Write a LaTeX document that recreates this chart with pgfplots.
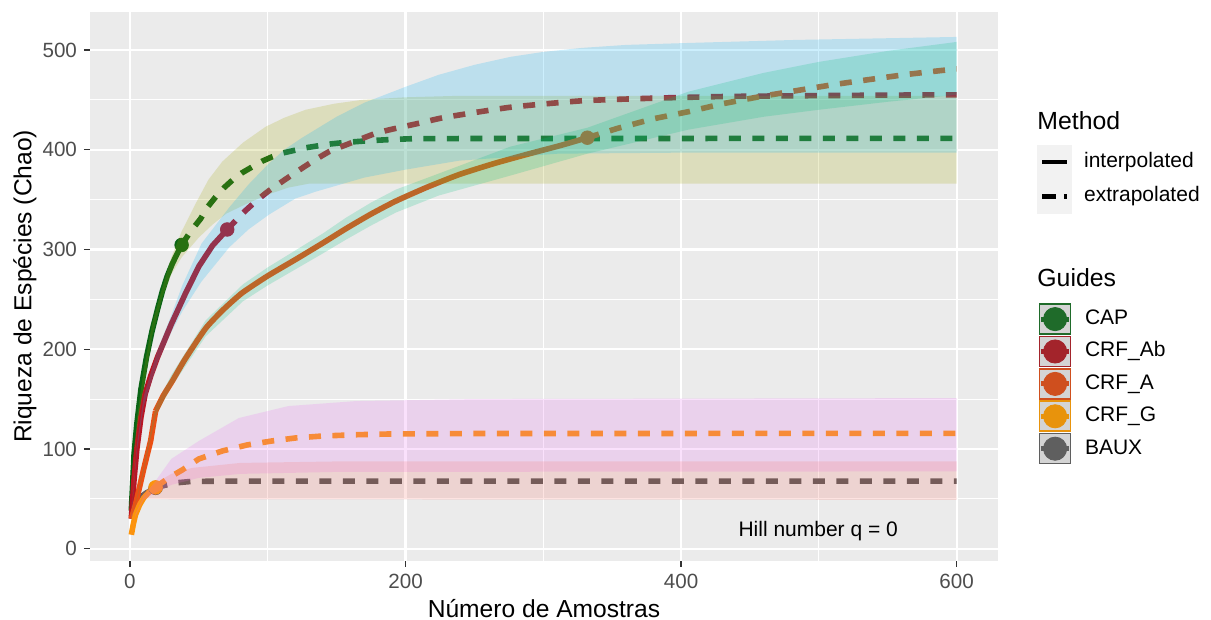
\documentclass[border=0pt]{standalone}
\usepackage{fontspec}
\setmainfont{Liberation Sans}
\usepackage{pgfplots}
\pgfplotsset{compat=1.18}
\definecolor{panelbg}{HTML}{EBEBEB}
\definecolor{gtwenty}{HTML}{333333}
\definecolor{gthirty}{HTML}{4D4D4D}
\definecolor{capc}{RGB}{10,100,22}
\definecolor{abc}{RGB}{185,20,35}
\definecolor{crfac}{RGB}{235,80,20}
\definecolor{crfgc}{RGB}{252,148,10}
\definecolor{bauxc}{RGB}{85,85,85}
\definecolor{bandcap}{HTML}{A3A500}
\definecolor{bandab}{HTML}{00B0F6}
\definecolor{banda}{HTML}{00BF7D}
\definecolor{bandg}{HTML}{E76BF3}
\definecolor{bandbaux}{HTML}{F8766D}
\definecolor{lcap}{RGB}{31,107,42}
\definecolor{lab}{RGB}{163,36,43}
\definecolor{la}{RGB}{207,79,30}
\definecolor{lg}{RGB}{232,147,12}
\definecolor{lbaux}{RGB}{95,95,95}
\definecolor{keybg}{RGB}{212,212,212}
\definecolor{keybgm}{HTML}{F2F2F2}
\newcommand\guidekey[1]{%
  \filldraw[fill=keybg, draw=#1, line width=0.8pt] (0.4pt,-7.5pt) rectangle (15.9pt,7.5pt);
  \draw[#1, line width=2.5pt] (1pt,0pt) -- (15.3pt,0pt);
  \fill[#1] (8.15pt,0pt) circle (5.8pt);}
\pgfplotsset{
  interp/.style={line width=2.8pt},
  extrap/.style={line width=2.8pt, dash pattern=on 6pt off 5.75pt},
  band/.style={draw=none, fill opacity=0.2},
}
\begin{document}
\begin{tikzpicture}
\begin{axis}[name=main,
  scale only axis, width=454pt, height=274.35pt,
  xmin=-29, xmax=630, ymin=-12, ymax=538,
  clip marker paths=true,
  axis background/.style={fill=panelbg},
  axis line style={draw=none},
  tick pos=left, tick align=outside,
  major tick length=3pt, minor tick length=0pt,
  xtick={0,200,400,600}, minor xtick={100,300,500},
  ytick={0,100,200,300,400,500}, minor ytick={50,150,250,350,450},
  grid=both,
  major grid style={white, line width=1.1pt},
  minor grid style={white, line width=0.55pt},
  tick style={gtwenty, line width=0.6pt},
  tick label style={font=\fontsize{10.3}{12}\selectfont, text=gthirty},
  /pgf/number format/assume math mode=true,
  xlabel={Número de Amostras}, ylabel={Riqueza de Espécies (Chao)},
  label style={font=\fontsize{12.3}{14}\selectfont},
  xlabel style={at={(axis description cs:0.5,-0.1035)}, anchor=base},
  ylabel style={at={(axis description cs:-0.0716,0.5)}, anchor=center},
]
% ---- lines (interpolated / extrapolated)
\addplot[bauxc, interp] coordinates {(1,32) (4,44) (8,52) (12,56) (16,59) (18.6,61)};
\addplot[bauxc, extrap] coordinates {(18.6,61) (25,63.5) (33,66) (45,67.5) (80,67.8) (600,67.8)};
\addplot[capc, interp] coordinates {(1,38) (3,95) (5,125) (8,160) (12,192) (16,218) (20,240) (23.5,258) (27,273) (30.7,285.5) (34,295) (37.5,304.5)};
\addplot[capc, extrap] coordinates {(37.5,304.5) (44,318) (51.3,330.8) (56,342) (62.2,352.6) (68,361.5) (74.3,369.4) (81,376.5) (88.8,382.8) (96,388.5) (103.3,392.9) (111,396.7) (120.3,399.6) (128,402) (137.2,404) (146,405.8) (156.6,407.3) (173.5,409) (190,410.2) (205,411) (250,411.2) (600,411.3)};
\addplot[abc, interp] coordinates {(1,30) (3,70) (5,100) (8,132) (11,155) (15,173) (20,192) (30,225) (40,255) (50,283) (60,304) (70.6,320)};
\addplot[abc, extrap, smooth, tension=0.3] coordinates {(70.6,320) (82.8,337.5) (92,349) (101,359) (115.4,372.7) (130,386) (144.5,398) (159,406) (178.4,416.4) (193,421.4) (209.8,426.5) (229,432.5) (276,442.5) (328,449) (380,451.6) (431.7,453.3) (483.5,454) (540,454.6) (600,455)};
\addplot[crfac, interp] coordinates {(1,30) (4,44) (10,80) (15,108) (18.6,138)};
\addplot[crfac, interp, smooth, tension=0.35] coordinates {(18.6,138) (24,153) (30.7,168) (40,190) (55,221) (68,240) (81.5,256.5) (100,273.5) (120.3,290) (139.5,306) (157,321) (175,335.5) (193,348.5) (215,362) (238.8,375) (264,386) (290,396) (312,404) (332,412)};
\addplot[crfac, extrap] coordinates {(332,412) (354,421.4) (380,431) (405.8,438.2) (430,446) (457.6,453.3) (483,459) (509.5,465) (535,470) (561.4,475) (580,478) (600,481)};
\addplot[crfgc, interp] coordinates {(1,14) (2.5,25) (4,34) (7,44) (10,51) (14,57) (18.6,61.5)};
\addplot[crfgc, extrap] coordinates {(18.6,61.5) (28,71) (38,79) (50,90) (67,98) (85,104) (103,108) (120,111) (140,113) (165,114.3) (188,115) (250,115.5) (600,115.6)};
% ---- reference points
\addplot[only marks, mark=*, mark size=3.4pt, bauxc] coordinates {(18.6,61)};
\addplot[only marks, mark=*, mark size=3.4pt, capc] coordinates {(37.5,304.5)};
\addplot[only marks, mark=*, mark size=3.4pt, abc] coordinates {(70.6,320)};
\addplot[only marks, mark=*, mark size=3.4pt, crfac] coordinates {(332,412)};
\addplot[only marks, mark=*, mark size=3.4pt, crfgc] coordinates {(18.6,61.5)};
% ---- confidence bands
\addplot[band, fill=bandcap] coordinates {(1,40) (5,130) (10,180) (16,225) (23.5,262) (30,292) (37.5,318) (47.7,346) (57,370) (67,388) (82,407) (98.5,423) (112,432) (127.5,440) (148,446) (168.7,450) (200,452.5) (239,454) (600,454)
  (600,366) (130,366) (115,362) (100,355) (85,346) (70,336) (60,325) (50,312) (37.5,292) (30,275) (23.5,252) (16,212) (10,160) (5,118) (1,36)} -- cycle;
\addplot[band, fill=bandab] coordinates {(1,32) (5,104) (10,153) (20,199) (30,234) (38,264) (52,306) (72,342) (86,365) (100,385) (112,400) (125,412) (150,433) (170,447) (200,463) (224,475) (250,485) (276,493) (300,498) (328,502) (360,505) (406,507) (483,510) (600,513)
  (600,397) (400,397) (311,396) (239,389) (200,380) (170,372) (135,358) (120,351) (101,335) (86,320) (72,302) (52,268) (38,238) (30,217) (20,186) (10,143) (5,97) (1,28)} -- cycle;
\addplot[band, fill=banda] coordinates {(1,30) (4,45) (10,82) (18.6,143) (30,174) (55,229) (82,265) (100,282) (120,299) (140,316) (157,332) (175,347) (193,360) (224,376) (276,403) (332,422) (405,458) (460,477) (500,488) (550,499) (600,508)
  (600,455) (550,448) (500,440) (460,433) (405,420) (332,396) (276,374) (224,354) (193,337) (175,324) (157,310) (140,296) (120,280) (100,264) (82,248) (55,213) (30,162) (18.6,133) (10,78) (4,43) (1,30)} -- cycle;
\addplot[band, fill=bandg] coordinates {(1,14.5) (4,35) (10,53) (18.6,68) (30,90) (50,108) (79,131) (115,143) (164,148) (250,150) (600,151)
  (600,77.5) (150,77) (80,75) (50,71) (30,64) (18.6,56) (10,49) (4,33) (1,13.5)} -- cycle;
\addplot[band, fill=bandbaux] coordinates {(1,33) (9,56) (19,66) (30,75) (45,81) (80,86) (150,87.5) (600,87.6)
  (600,49) (30,49.5) (19,50) (9,50) (4,41) (1,31)} -- cycle;
\node[anchor=base west, inner sep=0pt, font=\fontsize{10.5}{12}\selectfont] at (axis cs:441.4,12.1) {Hill number q = 0};
\end{axis}
% ---- legend: Method
\begin{axis}[at={(main.south west)}, anchor=south west,
  scale only axis, width=454pt, height=274.35pt, hide axis, clip=false,
  xmin=0, xmax=454, ymin=0, ymax=274.35,
  legend cell align=left,
  legend style={at={(1.04262,0.75779)}, anchor=north west, draw=none, fill=none,
    inner sep=0pt, outer sep=0pt, row sep=0pt,
    font=\fontsize{10.5}{12}\selectfont,
    nodes={inner sep=0pt, text height=7.5pt, text depth=2pt},
    /tikz/every odd column/.style={column sep=6.3pt}},
]
\addlegendimage{legend image code/.code={\fill[keybgm] (0pt,-8.375pt) rectangle (17pt,8.375pt); \draw[black, line width=2.2pt] (2.5pt,0pt) -- (15pt,0pt);}}
\addlegendentry{interpolated}
\addlegendimage{legend image code/.code={\fill[keybgm] (0pt,-8.375pt) rectangle (17pt,8.375pt); \draw[black, line width=2.2pt, dash pattern=on 6.7pt off 4.2pt] (2.5pt,0pt) -- (15pt,0pt);}}
\addlegendentry{extrapolated}
\node[anchor=base west, inner sep=0pt, font=\fontsize{12.4}{14}\selectfont] at (axis cs:473.5,215.7) {Method};
\node[anchor=base west, inner sep=0pt, font=\fontsize{12.4}{14}\selectfont] at (axis cs:473.5,137) {Guides};
\end{axis}
% ---- legend: Guides
\begin{axis}[at={(main.south west)}, anchor=south west,
  scale only axis, width=454pt, height=274.35pt, hide axis, clip=false,
  xmin=0, xmax=454, ymin=0, ymax=274.35,
  legend cell align=left,
  legend style={at={(1.04438,0.46911)}, anchor=north west, draw=none, fill=none,
    inner sep=0pt, outer sep=0pt, row sep=0.4pt,
    font=\fontsize{10.5}{12}\selectfont,
    nodes={inner sep=0pt, text height=7.5pt, text depth=2pt},
    /tikz/every odd column/.style={column sep=6.55pt}},
]
\addlegendimage{legend image code/.code={\guidekey{lcap}}}
\addlegendentry{CAP}
\addlegendimage{legend image code/.code={\guidekey{lab}}}
\addlegendentry{CRF\_Ab}
\addlegendimage{legend image code/.code={\guidekey{la}}}
\addlegendentry{CRF\_A}
\addlegendimage{legend image code/.code={\guidekey{lg}}}
\addlegendentry{CRF\_G}
\addlegendimage{legend image code/.code={\guidekey{lbaux}}}
\addlegendentry{BAUX}
\end{axis}
\pgfresetboundingbox
\path[use as bounding box] (main.south west) ++(-45pt,-29.65pt) rectangle ++(605.5pt,310pt);
\end{tikzpicture}
\end{document}
